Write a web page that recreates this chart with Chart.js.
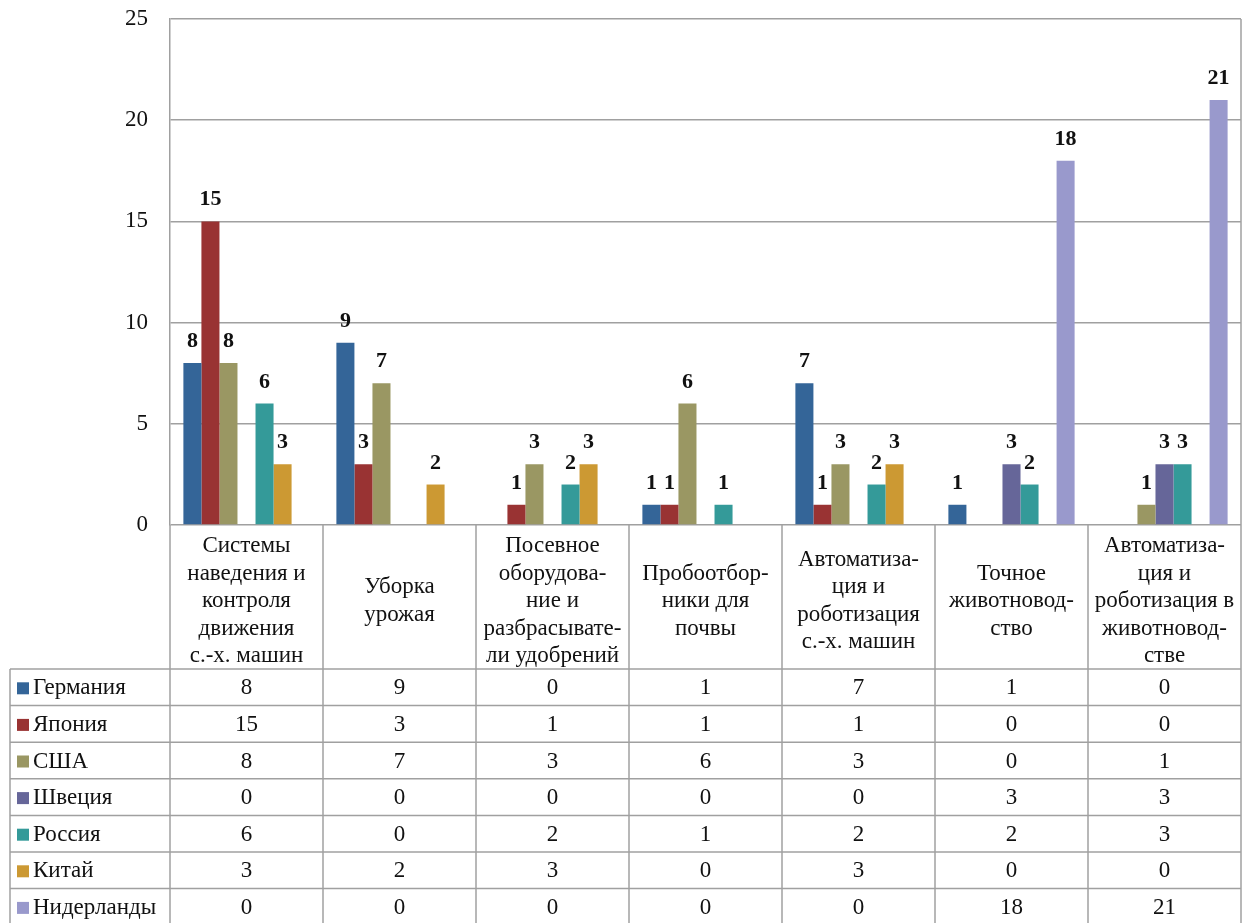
<!DOCTYPE html>
<html>
<head>
<meta charset="utf-8">
<script src="https://cdn.jsdelivr.net/npm/chart.js@4.4.1/dist/chart.umd.min.js"></script>
<style>
    body { margin: 0; background: #fff; font-family: "Liberation Serif", "Times New Roman", serif; }
    #wrap { width: 1246px; height: 923px; }
</style>
</head>
<body>
<div id="wrap"><canvas id="techChart" width="1246" height="923"></canvas></div>
<script>
// categories (multi-line, as they are wrapped in the table header)
var categories = [
    ["Системы", "наведения и", "контроля", "движения", "с.-х. машин"],
    ["Уборка", "урожая"],
    ["Посевное", "оборудова-", "ние и", "разбрасывате-", "ли удобрений"],
    ["Пробоотбор-", "ники для", "почвы"],
    ["Автоматиза-", "ция и", "роботизация", "с.-х. машин"],
    ["Точное", "животновод-", "ство"],
    ["Автоматиза-", "ция и", "роботизация в", "животновод-", "стве"]
];
var countries = ["Германия", "Япония", "США", "Швеция", "Россия", "Китай", "Нидерланды"];
var germany     = [8, 9, 0, 1, 7, 1, 0];
var japan       = [15, 3, 1, 1, 1, 0, 0];
var usa         = [8, 7, 3, 6, 3, 0, 1];
var sweden      = [0, 0, 0, 0, 0, 3, 3];
var russia      = [6, 0, 2, 1, 2, 2, 3];
var china       = [3, 2, 3, 0, 3, 0, 0];
var netherlands = [0, 0, 0, 0, 0, 18, 21];
var yTicks = [0, 5, 10, 15, 20, 25];

var seriesValues = [germany, japan, usa, sweden, russia, china, netherlands];
var seriesColors = ['#346598', '#993333', '#9a9763', '#666699', '#349a99', '#cc9933', '#9999cc'];

const FONT = '"Liberation Serif", "Times New Roman", serif';
const TEXT_SIZE = 23;
const LINE_COLOR = '#a0a0a0';
const HEADER_BOTTOM = 669;
const ROW_H = 36.6;
const TABLE_LEFT = 10;

// value labels over the non-zero bars
var barLabelsPlugin = {
    id: 'barLabels',
    afterDatasetsDraw: function(chart){
        const ctx = chart.ctx;
        ctx.save();
        ctx.font = 'bold 22px ' + FONT;
        ctx.fillStyle = '#111';
        ctx.textAlign = 'center';
        ctx.textBaseline = 'alphabetic';
        chart.data.datasets.forEach(function(ds, di){
            const meta = chart.getDatasetMeta(di);
            meta.data.forEach(function(bar, i){
                const v = ds.data[i];
                if(v > 0){
                    ctx.fillText(String(v), bar.x, bar.y - 16);
                }
            });
        });
        ctx.restore();
    }
};

// data table under the plot, lined up with the x scale
var dataTablePlugin = {
    id: 'dataTable',
    afterDraw: function(chart){
        const ctx = chart.ctx;
        const area = chart.chartArea;
        const xScale = chart.scales.x;
        const colW = area.width / categories.length;
        const bottom = HEADER_BOTTOM + ROW_H * countries.length;
        ctx.save();
        ctx.strokeStyle = LINE_COLOR;
        ctx.lineWidth = 1.5;

        // right border of the plot
        ctx.beginPath();
        ctx.moveTo(area.right, area.top);
        ctx.lineTo(area.right, area.bottom);
        ctx.stroke();

        // column lines
        for(let c = 0; c <= categories.length; c++){
            const x = area.left + c * colW;
            ctx.beginPath();
            ctx.moveTo(x, area.bottom);
            ctx.lineTo(x, bottom);
            ctx.stroke();
        }
        ctx.beginPath();
        ctx.moveTo(TABLE_LEFT, HEADER_BOTTOM);
        ctx.lineTo(TABLE_LEFT, bottom);
        ctx.stroke();

        // row lines
        for(let r = 0; r <= countries.length; r++){
            const y = HEADER_BOTTOM + r * ROW_H;
            ctx.beginPath();
            ctx.moveTo(TABLE_LEFT, y);
            ctx.lineTo(area.right, y);
            ctx.stroke();
        }

        ctx.fillStyle = '#111';
        ctx.font = TEXT_SIZE + 'px ' + FONT;
        ctx.textAlign = 'center';
        ctx.textBaseline = 'middle';

        // header: category names
        const headerMid = (area.bottom + HEADER_BOTTOM) / 2 + 4;
        const lh = 27.5;
        categories.forEach(function(lines, i){
            const cx = xScale.getPixelForValue(i);
            const y0 = headerMid - (lines.length - 1) * lh / 2;
            lines.forEach(function(t, k){
                ctx.fillText(t, cx, y0 + k * lh);
            });
        });

        // rows: legend key + values
        countries.forEach(function(name, r){
            const cy = HEADER_BOTTOM + r * ROW_H + ROW_H / 2 + 1;
            ctx.fillStyle = seriesColors[r];
            ctx.fillRect(17, cy - 6, 12, 12);
            ctx.fillStyle = '#111';
            ctx.textAlign = 'left';
            ctx.fillText(name, 33, cy);
            ctx.textAlign = 'center';
            seriesValues[r].forEach(function(v, i){
                ctx.fillText(String(v), xScale.getPixelForValue(i), cy);
            });
        });
        ctx.restore();
    }
};

var initChart = function(){
    const ctx = document.getElementById('techChart');
    new Chart(ctx, {
        type: 'bar',
        data: {
            labels: categories.map(function(c){ return c.join(' '); }),
            datasets: countries.map(function(name, i){
                return {
                    label: name,
                    data: seriesValues[i],
                    backgroundColor: seriesColors[i],
                    borderWidth: 0,
                    categoryPercentage: 0.825,
                    barPercentage: 1.0
                };
            })
        },
        options: {
            responsive: false,
            animation: false,
            devicePixelRatio: 1,
            layout: {
                padding: { left: 0, right: 5, top: 19, bottom: 398 }
            },
            plugins: {
                legend: { display: false },
                tooltip: { enabled: false }
            },
            scales: {
                x: {
                    display: false
                },
                y: {
                    min: 0,
                    max: 25,
                    afterFit: function(scale){
                        scale.width = 170;
                        // tick padding should not push the plot down
                        scale.paddingTop = 0;
                        scale.paddingBottom = 0;
                    },
                    afterBuildTicks: function(scale){
                        scale.ticks = yTicks.map(function(v){ return { value: v }; });
                    },
                    ticks: {
                        color: '#111',
                        padding: 22,
                        font: { family: FONT, size: TEXT_SIZE }
                    },
                    grid: {
                        color: LINE_COLOR,
                        lineWidth: 1.5,
                        drawTicks: false
                    },
                    border: {
                        display: true,
                        color: LINE_COLOR,
                        width: 1.5
                    }
                }
            }
        },
        plugins: [barLabelsPlugin, dataTablePlugin]
    });
};

Promise.all([
    document.fonts.load(TEXT_SIZE + 'px "Liberation Serif"', 'Германия 0123'),
    document.fonts.load('bold 22px "Liberation Serif"', '0123')
]).then(initChart, initChart);
</script>
</body>
</html>
